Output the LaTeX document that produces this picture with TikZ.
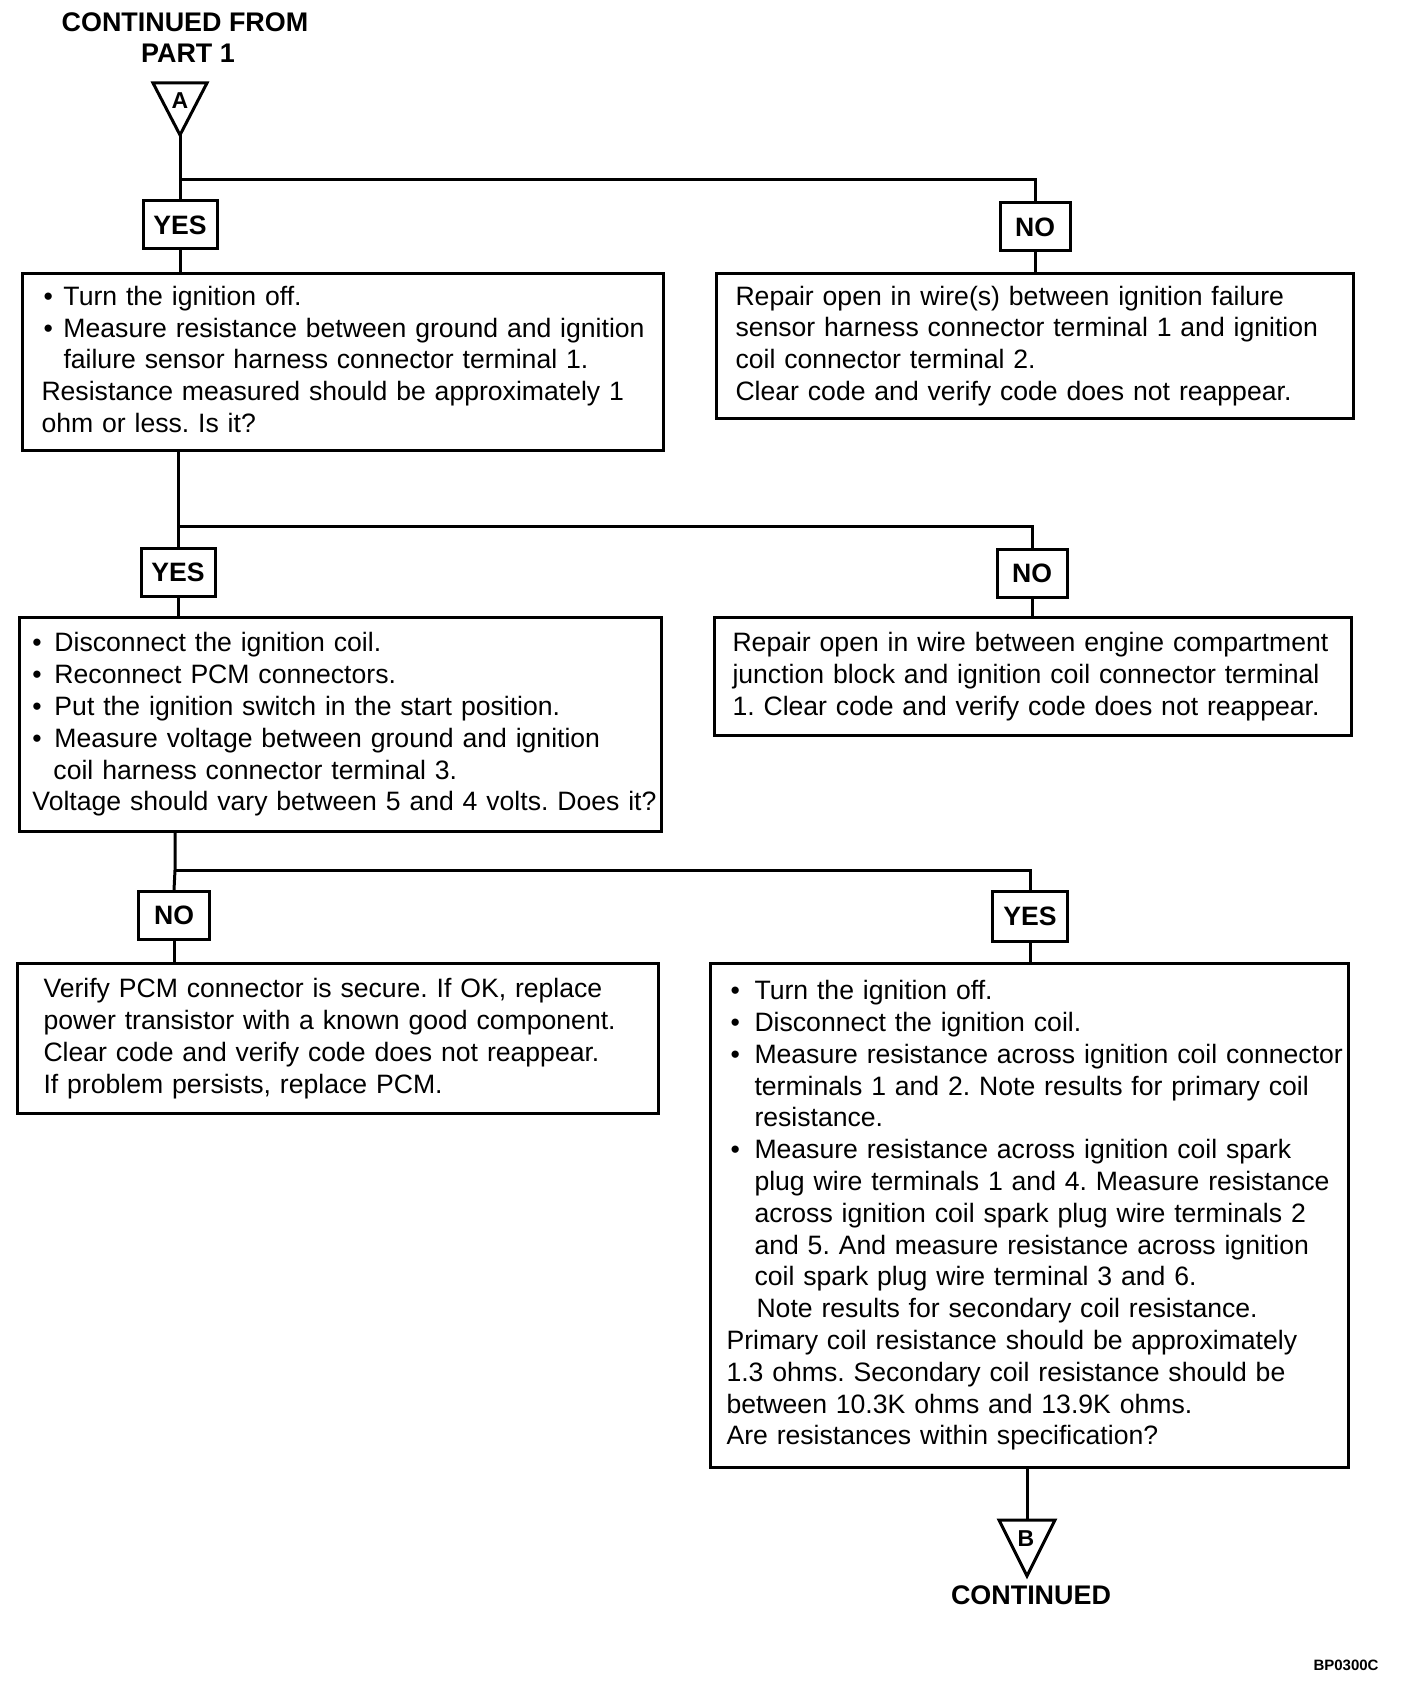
\documentclass[tikz,border=0pt]{standalone}
\usepackage{fontspec}
\setmainfont{Liberation Sans}
\frenchspacing
\newcommand\bodyfont{\fontsize{13.3}{15.9}\selectfont}
\newcommand\BL[3]{\mbox{\hspace*{#1}\makebox[#2][l]{\textbullet}#3}}
\newcommand\CL[2]{\mbox{\hspace*{#1}#2}}
\tikzset{
  box/.style={draw, line width=1.5pt, anchor=north west, align=left, inner ysep=0pt, font=\bodyfont},
  tag/.style={draw, line width=1.5pt, font=\bfseries\bodyfont, inner sep=0pt, minimum height=24pt},
  conn/.style={line width=1.5pt},
  tri/.style={line width=1.5pt, line join=miter},
  title/.style={font=\bfseries\fontsize{13.45}{15.9}\selectfont, inner sep=0pt},
  letter/.style={font=\bfseries\fontsize{11.5}{13}\selectfont, inner sep=0pt},
}
\begin{document}
\begin{tikzpicture}[x=0.5pt, y=-0.5pt]
\useasboundingbox (0,0) rectangle (1408,1696);

% header
\node[title] (t1) at (185,22.5) {CONTINUED FROM};
\node[title] (t2) at (188,53) {PART 1};
\coordinate (Atip) at (180,135);
\draw[tri] (153,83) -- (207,83) -- (Atip) -- cycle;
\node[letter] (Alab) at (180,101) {A};

% level 1
\node[tag, minimum width=37pt] (YES1) at (180,225) {YES};
\node[tag, minimum width=35pt] (NO1) at (1035,227) {NO};
\coordinate (j1) at (180,180);

\node[box, text width=301.5pt, inner xsep=9.5pt, minimum height=88.5pt] (b1) at (21,272) {%
\BL{1pt}{10pt}{Turn the ignition off.}\\
\BL{1pt}{10pt}{Measure resistance between ground and ignition}\\
\CL{11pt}{failure sensor harness connector terminal 1.}\\
\mbox{Resistance measured should be approximately 1}\\
\mbox{ohm or less. Is it?\vphantom{p}}};

\node[box, text width=299.5pt, inner xsep=9.5pt, minimum height=72.5pt] (b2) at (715,272) {%
\mbox{Repair open in wire(s) between ignition failure}\\
\mbox{sensor harness connector terminal 1 and ignition}\\
\mbox{coil connector terminal 2.}\\
\mbox{Clear code and verify code does not reappear.}};

% level 2
\coordinate (j2) at (178,526);
\node[tag, minimum width=37pt] (YES2) at (178,572) {YES};
\node[tag, minimum width=35pt] (NO2) at (1032,573) {NO};

\node[box, text width=308pt, inner xsep=6.5pt, minimum height=107pt] (b3) at (18,616) {%
\BL{0pt}{11pt}{Disconnect the ignition coil.}\\
\BL{0pt}{11pt}{Reconnect PCM connectors.}\\
\BL{0pt}{11pt}{Put the ignition switch in the start position.}\\
\BL{0pt}{11pt}{Measure voltage between ground and ignition}\\
\CL{10.5pt}{coil harness connector terminal 3.}\\
\mbox{Voltage should vary between 5 and 4 volts. Does it?}};

\node[box, text width=300.5pt, inner xsep=9pt, minimum height=59pt] (b4) at (713,616) {%
\mbox{Repair open in wire between engine compartment}\\
\mbox{junction block and ignition coil connector terminal}\\
\mbox{1. Clear code and verify code does not reappear.}};

% level 3
\coordinate (j3) at (175,870);
\node[tag, minimum width=35.5pt] (NO3) at (174,915.5) {NO};
\node[tag, minimum width=37.5pt, minimum height=25pt] (YES3) at (1030,916.5) {YES};

\node[box, text width=294.5pt, inner xsep=13pt, minimum height=75pt] (b5) at (16,962) {%
\mbox{Verify PCM connector is secure. If OK, replace}\\
\mbox{power transistor with a known good component.}\\
\mbox{Clear code and verify code does not reappear.}\\
\mbox{If problem persists, replace PCM.}};

\node[box, text width=303pt, inner xsep=8pt, minimum height=252pt] (b6) at (709,962) {%
\BL{2pt}{12pt}{Turn the ignition off.}\\
\BL{2pt}{12pt}{Disconnect the ignition coil.}\\
\BL{2pt}{12pt}{Measure resistance across ignition coil connector}\\
\CL{14pt}{terminals 1 and 2. Note results for primary coil}\\
\CL{14pt}{resistance.}\\
\BL{2pt}{12pt}{Measure resistance across ignition coil spark}\\
\CL{14pt}{plug wire terminals 1 and 4. Measure resistance}\\
\CL{14pt}{across ignition coil spark plug wire terminals 2}\\
\CL{14pt}{and 5. And measure resistance across ignition}\\
\CL{14pt}{coil spark plug wire terminal 3 and 6.}\\
\CL{15pt}{Note results for secondary coil resistance.}\\
\mbox{Primary coil resistance should be approximately}\\
\mbox{1.3 ohms. Secondary coil resistance should be}\\
\mbox{between 10.3K ohms and 13.9K ohms.}\\
\mbox{Are resistances within specification?}};

% footer
\coordinate (Btop) at (1027,1520);
\coordinate (Btip) at (1027,1576);
\draw[tri] (999,1520) -- (1055,1520) -- (Btip) -- cycle;
\node[letter] (Blab) at (1026,1539) {B};
\node[title] (t3) at (1031,1595) {CONTINUED};
\node[font=\bfseries\fontsize{7.5}{9}\selectfont, inner sep=0pt] (code) at (1346,1665) {BP0300C};

% connectors
\draw[conn] (Atip) -- (YES1.north);
\draw[conn] (j1) -| (NO1.north);
\draw[conn] (YES1.south) -- (YES1.south |- b1.north);
\draw[conn] (NO1.south) -- (NO1.south |- b2.north);
\draw[conn] (j2 |- b1.south) -- (YES2.north);
\draw[conn] (j2) -| (NO2.north);
\draw[conn] (YES2.south) -- (YES2.south |- b3.north);
\draw[conn] (NO2.south) -- (NO2.south |- b4.north);
\draw[conn] (j3 |- b3.south) -- (j3) -- (NO3.north);
\draw[conn] (j3) -| (YES3.north);
\draw[conn] (NO3.south) -- (NO3.south |- b5.north);
\draw[conn] (YES3.south) -- (YES3.south |- b6.north);
\draw[conn] (Btop |- b6.south) -- (Btop);
\end{tikzpicture}
\end{document}
